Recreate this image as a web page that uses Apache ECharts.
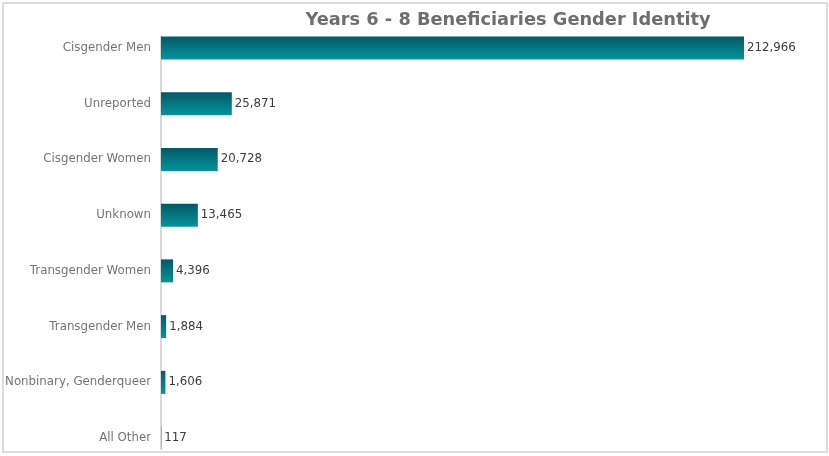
<!DOCTYPE html>
<html>
<head>
<meta charset="utf-8">
<script src="https://cdn.jsdelivr.net/npm/echarts@6/dist/echarts.min.js"></script>
<style>
  html, body { margin: 0; padding: 0; background: #fff; }
  #chart { width: 829px; height: 456px; }
</style>
</head>
<body>
<div id="chart"></div>
<script>
// Beneficiary counts by gender identity, largest first
const categories = [
  'Cisgender Men',
  'Unreported',
  'Cisgender Women',
  'Unknown',
  'Transgender Women',
  'Transgender Men',
  'Nonbinary, Genderqueer',
  'All Other'
];
const counts = [212966, 25871, 20728, 13465, 4396, 1884, 1606, 117];
const titleText = 'Years 6 - 8 Beneficiaries Gender Identity';

const chart = echarts.init(document.getElementById('chart'), null, { renderer: 'canvas' });

const barFill = new echarts.graphic.LinearGradient(0, 0, 0, 1, [
  { offset: 0, color: '#055866' },
  { offset: 1, color: '#03959c' }
]);

chart.setOption({
  animation: false,
  backgroundColor: '#ffffff',
  title: {
    text: titleText,
    left: 503,
    top: 6,
    textAlign: 'center',
    textStyle: {
      fontFamily: 'DejaVu Sans',
      fontWeight: 'bold',
      fontSize: 17.8,
      color: '#6e6e6e'
    }
  },
  grid: {
    left: 161, width: 657, top: 20, height: 446,
    containLabel: false,
    outerBoundsMode: 'none'
  },
  xAxis: {
    type: 'value',
    min: 0,
    max: 240000,
    show: false
  },
  yAxis: {
    type: 'category',
    inverse: true,
    data: categories,
    axisLine: { show: false },
    axisTick: { show: false },
    splitLine: { show: false },
    axisLabel: {
      margin: 10,
      fontFamily: 'DejaVu Sans',
      fontSize: 11.8,
      color: '#747474'
    }
  },
  series: [{
    type: 'bar',
    data: counts,
    barWidth: 23,
    itemStyle: { color: barFill },
    label: {
      show: true,
      position: 'right',
      distance: 3,
      fontFamily: 'DejaVu Sans',
      fontSize: 11.8,
      color: '#3c3c3c',
      formatter: p => p.value.toLocaleString('en-US')
    }
  }]
});

// Frame around the chart and the baseline at zero, placed from the axis scale
function drawDecor() {
  const x0 = chart.convertToPixel({ gridIndex: 0 }, [0, 0])[0];
  const yFirst = chart.convertToPixel({ yAxisIndex: 0 }, categories[0]);
  const yLast = chart.convertToPixel({ yAxisIndex: 0 }, categories[categories.length - 1]);
  chart.setOption({
    graphic: [
      {
        type: 'rect',
        shape: { x: 3, y: 3, width: 824, height: 449 },
        style: { fill: 'none', stroke: '#dcdcdc', lineWidth: 2 },
        silent: true
      },
      {
        type: 'line',
        shape: { x1: x0, y1: yFirst - 12, x2: x0, y2: yLast + 11 },
        style: { stroke: '#d9d9d9', lineWidth: 2 },
        z: -1,
        silent: true
      }
    ]
  });
}
drawDecor();
</script>
</body>
</html>
